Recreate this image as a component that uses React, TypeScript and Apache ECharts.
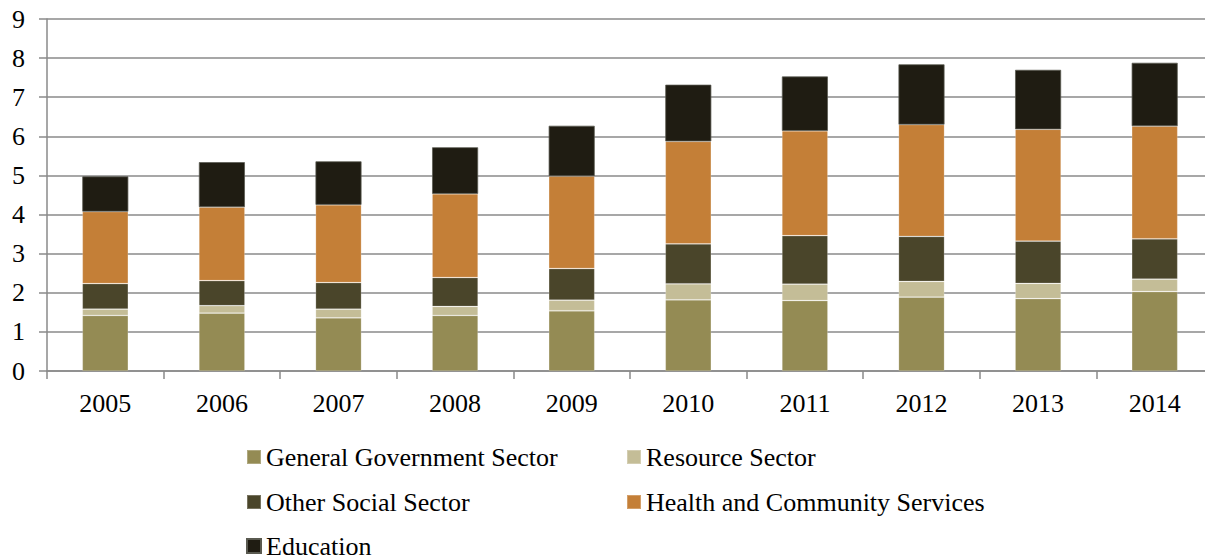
import React, { useEffect, useRef } from "react";
import * as echarts from "echarts";

const years = ["2005", "2006", "2007", "2008", "2009", "2010", "2011", "2012", "2013", "2014"];
const generalGovernment = [1.42, 1.48, 1.36, 1.42, 1.54, 1.82, 1.8, 1.89, 1.85, 2.03];
const resourceSector = [0.165, 0.19, 0.22, 0.23, 0.27, 0.41, 0.42, 0.4, 0.39, 0.32];
const otherSocial = [0.65, 0.64, 0.68, 0.74, 0.81, 1.02, 1.24, 1.15, 1.08, 1.03];
const healthCommunity = [1.84, 1.88, 1.99, 2.14, 2.36, 2.62, 2.68, 2.86, 2.86, 2.88];
const education = [0.9, 1.15, 1.11, 1.19, 1.29, 1.45, 1.39, 1.54, 1.52, 1.62];
const yTicks = [0, 1, 2, 3, 4, 5, 6, 7, 8, 9];

const FONT = "'Liberation Serif', 'Times New Roman', serif";

export default function App() {
  const ref = useRef<HTMLDivElement>(null);
  useEffect(() => {
    if (!ref.current) return;
    const chart = echarts.init(ref.current, undefined, { renderer: "svg" });
    const seriesDefs = [
      { name: "General Government Sector", data: generalGovernment, color: "#948B54" },
      { name: "Resource Sector", data: resourceSector, color: "#C4BD97" },
      { name: "Other Social Sector", data: otherSocial, color: "#4A452A" },
      { name: "Health and Community Services", data: healthCommunity, color: "#C47F37" },
      { name: "Education", data: education, color: "#1F1C12" },
    ];
    const legendPos = [
      { left: 246, top: 444 },
      { left: 626, top: 444 },
      { left: 246, top: 489 },
      { left: 626, top: 489 },
      { left: 246, top: 533 },
    ];
    chart.setOption({
      animation: false,
      backgroundColor: "#ffffff",
      grid: { left: 47, top: 19, width: 1166, height: 352, containLabel: false, outerBoundsMode: "none" },
      legend: seriesDefs.map((s, i) => ({
        data: [s.name],
        left: legendPos[i].left,
        top: legendPos[i].top,
        padding: 0,
        itemWidth: 14,
        itemHeight: 14,
        icon: "rect",
        selectedMode: false,
        textStyle: { fontFamily: FONT, fontSize: 26, color: "#000" },
      })),
      xAxis: {
        type: "category",
        data: years,
        axisLine: { show: true, lineStyle: { color: "#8a8a8a", width: 1.5 } },
        axisTick: { show: true, length: 8, inside: false, alignWithLabel: false, lineStyle: { color: "#8a8a8a", width: 1.5 } },
        axisLabel: { fontFamily: FONT, fontSize: 26, color: "#000", margin: 19 },
        splitLine: { show: false },
      },
      yAxis: {
        type: "value",
        min: yTicks[0],
        max: yTicks[yTicks.length - 1],
        interval: 1,
        axisLine: { show: true, lineStyle: { color: "#8a8a8a", width: 1.5 } },
        axisTick: { show: true, length: 8, lineStyle: { color: "#8a8a8a", width: 1.5 } },
        axisLabel: { fontFamily: FONT, fontSize: 26, color: "#000", margin: 22 },
        splitLine: { show: true, lineStyle: { color: "#8a8a8a", width: 1.5 } },
      },
      series: seriesDefs.map((s) => ({
        name: s.name,
        type: "bar",
        stack: "total",
        barWidth: 46,
        data: s.data,
        itemStyle: {
          color: s.color,
          borderColor: s.name === "Education" ? "#5a5a50" : "rgba(255,255,255,0.25)",
          borderWidth: 0.75,
        },
      })),
    });
    return () => chart.dispose();
  }, []);
  return (
    <div
      ref={ref}
      style={{ position: "absolute", left: 0, top: 0, width: 1205, height: 558 }}
    />
  );
}
